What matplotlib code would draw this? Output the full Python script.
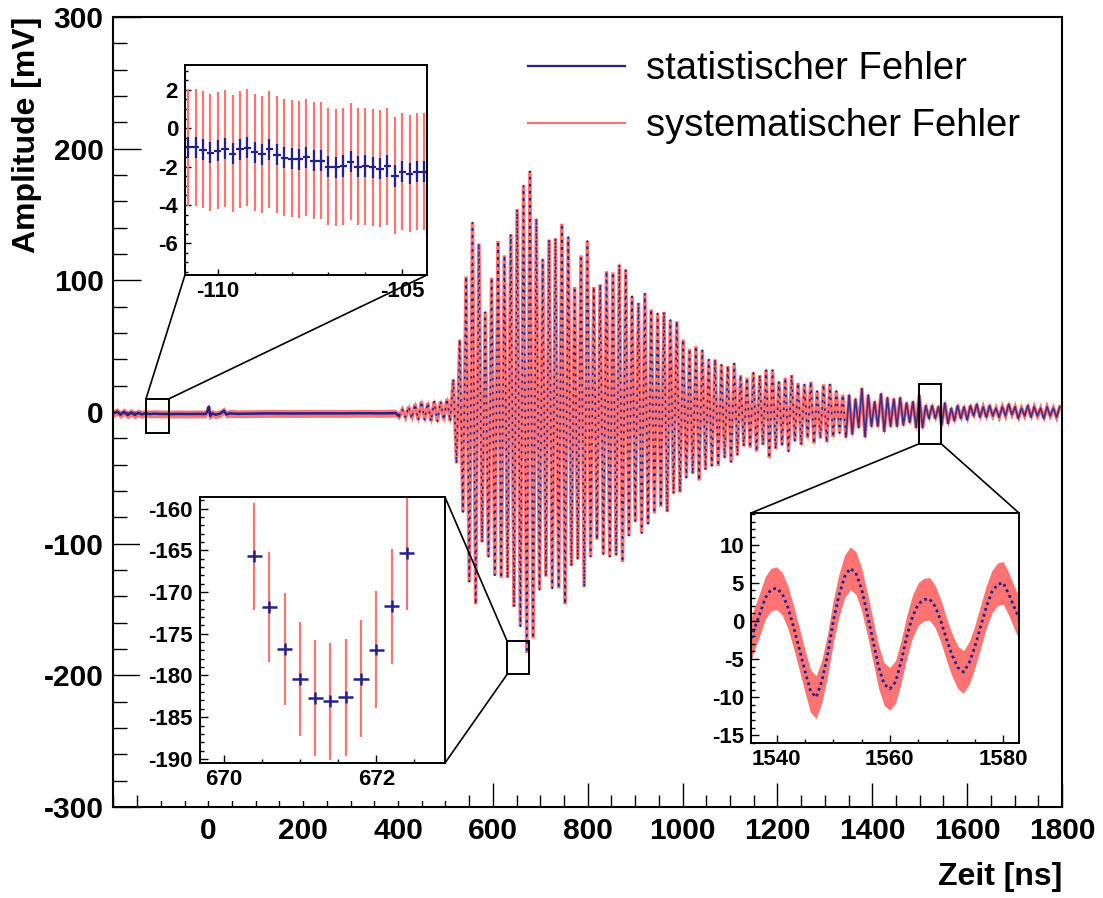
import numpy as np
import matplotlib
matplotlib.use("Agg")
import matplotlib.pyplot as plt
from matplotlib.lines import Line2D
from matplotlib.patches import Rectangle, ConnectionPatch
from matplotlib.ticker import MultipleLocator

plt.rcParams['font.family'] = ['Liberation Sans', 'DejaVu Sans']
plt.rcParams['font.weight'] = 'bold'
plt.rcParams['axes.unicode_minus'] = False

BLUE = "#22228c"
RED = "#ff7373"

# ------------------------------------------------------------ main trace data
# quiet baseline before the pulse (ns, mV)
PRE_T = [-200, -192, -185, -178, -170, -163, -155, -148, -140, -132,
         -125, -115, -100, -80, -60, -40, -20, -6, -2, 1,
         4, 8, 15, 25, 33, 38, 45, 60, 90, 130,
         180, 230, 280, 330, 370, 395]
PRE_MV = [-1.0, 0.3, -2.0, 0.2, -2.3, -0.3, -2.2, -0.6, -1.8, -0.8,
          -1.5, -1.2, -1.4, -1.5, -1.4, -1.5, -1.4, -1.5, 0.5, 4.0,
          -3.0, -1.0, -2.0, -1.2, 1.0, -1.8, -1.0, -1.3, -1.2, -1.0,
          -1.1, -1.0, -1.0, -0.9, -1.0, -0.8]

# pulse: one trough and the following peak per cycle, cycles -20 .. 83
CYCLE_FIRST = -20
TROUGH_T0 = 671.4      # ns, trough of cycle 0 (bottom-left inset)
PERIOD = 13.46         # ns
TROUGH_MV = [
    -3, -4, -5, -6, -6, -7, -7, -6, -7, -39,
    -76, -129, -146, -99, -110, -124, -126, -126, -148, -163,
    -183, -172, -135, -125, -134, -134, -146, -117, -112, -133,
    -110, -97, -108, -110, -109, -114, -94, -83, -92, -85,
    -77, -72, -76, -62, -61, -50, -47, -52, -44, -41,
    -41, -35, -38, -33, -26, -27, -30, -25, -35, -28,
    -25, -30, -22, -25, -20, -24, -20, -23, -19, -16,
    -19, -17, -12, -19, -11, -11, -15, -11, -11, -10,
    -8, -12, -12, -5, -5, -10, -8.9, -6.7, -5, -6,
    -3, -4, -4, -3, -4, -3, -2, -5, -3, -4,
    -3, -5, -3, -4,
]
PEAK_MV = [
    2, 4, 6, 8, 7, 8, 8, 10, 25, 55,
    103, 144, 128, 76, 102, 130, 119, 135, 154, 172,
    183, 147, 116, 131, 132, 143, 133, 95, 119, 130,
    95, 97, 107, 106, 112, 108, 88, 83, 90, 78,
    75, 76, 70, 69, 55, 48, 50, 47, 40, 40,
    36, 35, 37, 28, 26, 30, 28, 32, 32, 23,
    26, 28, 22, 21, 23, 16, 21, 21, 16, 13,
    13, 10, 18, 13, 8, 14, 11, 10, 11, 7,
    8, 13, 5, 5, 4.3, 7.0, 2.9, 5.0, 4, 5,
    6, 4, 5, 3, 4, 6, 4, 3, 5, 4,
    3, 4, 3, 4,
]
SYS_MAIN = 3.0   # mV
TAIL_T = 1350    # ns, from here on the blue markers merge into a line

# ------------------------------------------------------------ inset data
TL_T = np.round(np.arange(-110.8, -104.3, 0.2), 1)
TL_MV = [-0.99, -0.99, -1.13, -1.27, -1.17, -1.08, -1.34, -1.10, -1.01, -1.25,
         -1.36, -1.10, -1.37, -1.53, -1.58, -1.62, -1.51, -1.70, -1.69, -2.00,
         -2.03, -1.97, -1.74, -2.00, -1.97, -2.03, -2.12, -1.97, -2.49, -2.26,
         -2.38, -2.26, -2.26]
TL_STAT = 0.55
TL_SYS = 3.05

BL_T = np.round(np.arange(670.4, 672.5, 0.2), 1)
BL_MV = [-165.7, -171.8, -176.8, -180.4, -182.7, -183.1, -182.6, -180.4,
         -176.9, -171.7, -165.3]
BL_STAT = 0.7
BL_SYS = [6.4, 6.6, 6.7, 6.85, 7.0, 7.0, 7.0, 7.0, 7.0, 6.9, 6.9]

BR_T = np.arange(1535, 1584, 1)
BR_MV = [-3.8, -1.2, 0.8, 3.0, 4.1, 4.3, 3.6, 1.8, -0.75, -3.6,
         -6.5, -9.2, -10.0, -7.9, -4.5, -0.1, 3.3, 5.8, 6.9, 6.3,
         4.2, 1.0, -2.5, -6.0, -8.3, -8.9, -8.0, -5.3, -2.0, 0.6,
         2.2, 2.8, 2.9, 1.9, 0.0, -2.4, -4.5, -6.1, -6.7, -5.5,
         -3.4, -0.8, 1.8, 3.8, 4.8, 5.0, 3.5, 1.7, 0.0]
BR_SYS = 2.8

# zoom windows marked in the main pad: (t0, t1, v0, v1)
BOX_TL = (-131.6, -84.0, -15.7, 9.9)
BOX_BL = (630.0, 676.3, -199.2, -174.0)
BOX_BR = (1497.5, 1545.9, -24.3, 21.0)

X_TICKS = list(range(0, 1801, 200))
LABELS = ["statistischer Fehler", "systematischer Fehler"]

# ------------------------------------------------------------ build trace
m = np.arange(CYCLE_FIRST, CYCLE_FIRST + len(TROUGH_MV))
t_tr = TROUGH_T0 + PERIOD * m
t_pk = t_tr + PERIOD / 2
sig_t = np.column_stack([t_tr, t_pk]).ravel()
sig_v = np.column_stack([TROUGH_MV, PEAK_MV]).ravel()
all_t = np.concatenate([PRE_T, sig_t])
all_v = np.concatenate([PRE_MV, sig_v])

# ------------------------------------------------------------ figure
fig = plt.figure(figsize=(11.03, 8.98), dpi=100)
ax = fig.add_axes([0.1029, 0.1013, 0.8599, 0.8797])

ax.fill_between(all_t, all_v - SYS_MAIN, all_v + SYS_MAIN, color=RED, lw=0)
ax.plot(all_t, all_v, color=RED, lw=2.6, solid_joinstyle='miter')
ax.plot(np.append(PRE_T, sig_t[0]), np.append(PRE_MV, sig_v[0]),
        color=BLUE, lw=1.8)
body = sig_t <= TAIL_T
ax.plot(sig_t[body], sig_v[body], color=BLUE, lw=1.1, dashes=(1.6, 3))
tail = sig_t >= sig_t[body][-1]
ax.plot(sig_t[tail], sig_v[tail], color=BLUE, lw=1.2, alpha=0.85)

ax.set_xlim(-200, 1800)
ax.set_ylim(-300, 300)
ax.set_xticks(X_TICKS)
ax.xaxis.set_minor_locator(MultipleLocator(50))
ax.yaxis.set_major_locator(MultipleLocator(100))
ax.yaxis.set_minor_locator(MultipleLocator(20))
ax.tick_params(which='both', direction='in', top=False, right=False, width=1)
ax.tick_params(axis='x', which='major', length=17, pad=7, labelsize=21.5)
ax.tick_params(axis='x', which='minor', length=8.5)
ax.tick_params(axis='y', which='major', length=20.5, pad=7, labelsize=21.5)
ax.tick_params(axis='y', which='minor', length=10.2)
for s in ax.spines.values():
    s.set_linewidth(1.5)

ax.text(1.0, -0.0885, "Zeit [ns]", transform=ax.transAxes, ha='right',
        va='center', fontsize=23)
ax.text(-0.091, 1.0, "Amplitude [mV]", transform=ax.transAxes, rotation=90,
        ha='center', va='top', fontsize=23)

handles = [Line2D([], [], color=BLUE, lw=1.6), Line2D([], [], color=RED, lw=1.6)]
ax.legend(handles, LABELS, loc='upper left', bbox_to_anchor=(0.437, 0.957),
          frameon=False, prop={'size': 27.5, 'weight': 'normal'},
          handlelength=2.55, handletextpad=0.55, borderpad=0,
          borderaxespad=0, labelspacing=0.55)

for x0, x1, y0, y1 in (BOX_TL, BOX_BL, BOX_BR):
    ax.add_patch(Rectangle((x0, y0), x1 - x0, y1 - y0, fill=False,
                           ec='k', lw=1.4, zorder=5))

# white pad under the bottom-left inset (hides part of the x ticks)
fig.add_artist(Rectangle((140 / 1103, 1 - 801 / 898), 318 / 1103, 309 / 898,
                         transform=fig.transFigure, fc='white', ec='none',
                         zorder=2))


def make_inset(rect, xlim, ylim, xmaj, xmin, ymaj, ymin, tlen):
    ia = fig.add_axes(rect, zorder=3)
    ia.set_xlim(*xlim)
    ia.set_ylim(*ylim)
    ia.xaxis.set_major_locator(MultipleLocator(xmaj))
    ia.xaxis.set_minor_locator(MultipleLocator(xmin))
    ia.yaxis.set_major_locator(MultipleLocator(ymaj))
    ia.yaxis.set_minor_locator(MultipleLocator(ymin))
    ia.tick_params(which='both', direction='in', top=False, right=False,
                   width=1, labelsize=16)
    ia.tick_params(which='major', length=tlen)
    ia.tick_params(which='minor', length=tlen / 2)
    ia.tick_params(axis='x', pad=4)
    ia.tick_params(axis='y', pad=5)
    for s in ia.spines.values():
        s.set_linewidth(1.4)
    return ia


# -- top-left: pre-trigger baseline
ins_tl = make_inset([0.1677, 0.6938, 0.2194, 0.2339], (-110.89, -104.33),
                    (-7.65, 3.3), 5, 1, 2, 0.5, 4.2)
ins_tl.errorbar(TL_T, TL_MV, yerr=TL_SYS, fmt='none', ecolor=RED,
                elinewidth=1.6, capsize=0)
ins_tl.errorbar(TL_T, TL_MV, xerr=0.1, yerr=TL_STAT, fmt='none',
                ecolor=BLUE, elinewidth=1.6, capsize=0)

# -- bottom-left: deepest trough
ins_bl = make_inset([0.1813, 0.1503, 0.2221, 0.2962], (669.69, 672.9),
                    (-190.5, -158.6), 2, 0.5, 5, 1, 5.8)
ins_bl.errorbar(BL_T, BL_MV, yerr=BL_SYS, fmt='none', ecolor=RED,
                elinewidth=1.6, capsize=0)
ins_bl.errorbar(BL_T, BL_MV, xerr=0.1, yerr=BL_STAT, fmt='none',
                ecolor=BLUE, elinewidth=1.8, capsize=0)

# -- bottom-right: tail of the pulse
ins_br = make_inset([0.6809, 0.1726, 0.2430, 0.2561], (1535.5, 1582.8),
                    (-16.0, 14.15), 20, 5, 5, 1, 5.6)
br_v = np.array(BR_MV)
ins_br.fill_between(BR_T, br_v - BR_SYS, br_v + BR_SYS, color=RED, lw=0)
ins_br.plot(BR_T, br_v, color=BLUE, lw=2, linestyle=(0, (1, 1.2)))

# -- connector lines from the zoom boxes to the insets
links = [
    ((BOX_TL[0], BOX_TL[3]), ins_tl, (0, 0)),
    ((BOX_TL[1], BOX_TL[3]), ins_tl, (1, 0)),
    ((BOX_BL[0], BOX_BL[3]), ins_bl, (1, 1)),
    ((BOX_BL[0], BOX_BL[2]), ins_bl, (1, 0)),
    ((BOX_BR[0], BOX_BR[2]), ins_br, (0, 1)),
    ((BOX_BR[1], BOX_BR[2]), ins_br, (1, 1)),
]
for xy_a, ia, xy_b in links:
    con = ConnectionPatch(xyA=xy_a, coordsA="data", axesA=ax,
                          xyB=xy_b, coordsB="axes fraction", axesB=ia,
                          color='k', lw=1.2, zorder=4)
    fig.add_artist(con)

fig.savefig("out.png", dpi=100)
